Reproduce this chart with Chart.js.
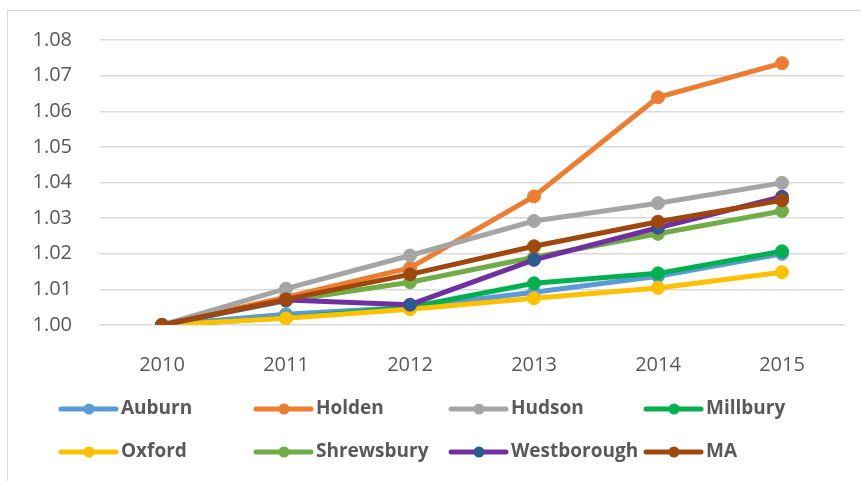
<!DOCTYPE html>
<html>
<head>
  <title>Index by town</title>
  <script src="https://cdn.jsdelivr.net/npm/chart.js"></script>
  <style>
    html, body { margin: 0; padding: 0; background: #fff; overflow: hidden; }
    #frame { position: absolute; left: 7px; top: 10px; width: 900px; height: 520px; border: 1px solid #d9d9d9; }
    #indexChart { position: absolute; left: 0; top: 0; }
  </style>
</head>
<body>
  <div id="frame"></div>
  <canvas id="indexChart" width="861" height="481"></canvas>

  <script>
    // values
    const years = ['2010', '2011', '2012', '2013', '2014', '2015'];
    const auburn      = [1.000, 1.0030, 1.0050, 1.0092, 1.0137, 1.0200];
    const holden      = [1.000, 1.0078, 1.0160, 1.0361, 1.0639, 1.0735];
    const hudson      = [1.000, 1.0102, 1.0195, 1.0292, 1.0342, 1.0399];
    const millbury    = [1.000, 1.0020, 1.0050, 1.0117, 1.0145, 1.0207];
    const oxford      = [1.000, 1.0019, 1.0044, 1.0075, 1.0104, 1.0148];
    const shrewsbury  = [1.000, 1.0068, 1.0120, 1.0190, 1.0256, 1.0320];
    const westborough = [1.000, 1.0070, 1.0057, 1.0183, 1.0273, 1.0360];
    const ma          = [1.000, 1.0072, 1.0142, 1.0221, 1.0290, 1.0350];
    const yTicks = [1.00, 1.01, 1.02, 1.03, 1.04, 1.05, 1.06, 1.07, 1.08];

    const series = [
      ['Auburn', auburn, '#5B9BD5', '#5B9BD5'],
      ['Holden', holden, '#ED7D31', '#ED7D31'],
      ['Hudson', hudson, '#A5A5A5', '#A5A5A5'],
      ['Millbury', millbury, '#00B050', '#00B050'],
      ['Oxford', oxford, '#FFC000', '#FFC000'],
      ['Shrewsbury', shrewsbury, '#70AD47', '#70AD47'],
      ['Westborough', westborough, '#7030A0', '#255E91'],
      ['MA', ma, '#9E480E', '#9E480E']
    ];

    const textColor = '#595959';

    // legend in a 4 x 2 grid, like the original
    const gridLegend = {
      id: 'gridLegend',
      afterDraw(chart) {
        const ctx = chart.ctx;
        ctx.save();
        chart.data.datasets.forEach((ds, i) => {
          const x = 61 + (i % 4) * 195;
          const y = 409 + Math.floor(i / 4) * 43;
          ctx.strokeStyle = ds.borderColor;
          ctx.lineWidth = 5;
          ctx.lineCap = 'round';
          ctx.beginPath();
          ctx.moveTo(x, y);
          ctx.lineTo(x + 55, y);
          ctx.stroke();
          ctx.fillStyle = ds.pointBackgroundColor;
          ctx.beginPath();
          ctx.arc(x + 28, y, 5.5, 0, Math.PI * 2);
          ctx.fill();
          ctx.fillStyle = textColor;
          ctx.font = 'bold 19px "Open Sans"';
          ctx.textBaseline = 'middle';
          ctx.fillText(ds.label, x + 60, y);
        });
        ctx.restore();
      }
    };

    const ctx = document.getElementById('indexChart').getContext('2d');
    new Chart(ctx, {
      type: 'line',
      data: {
        labels: years,
        datasets: series.map((s, i) => ({
          label: s[0],
          data: s[1],
          borderColor: s[2],
          backgroundColor: s[2],
          pointBackgroundColor: s[3],
          pointBorderColor: s[2],
          pointBorderWidth: 1,
          pointRadius: 6.5,
          borderWidth: 5,
          tension: 0,
          order: series.length - 1 - i
        }))
      },
      options: {
        responsive: false,
        devicePixelRatio: 1,
        animation: false,
        layout: { padding: { left: 0, right: 17, top: 39, bottom: 0 } },
        plugins: {
          legend: { display: false },
          tooltip: { enabled: false }
        },
        scales: {
          x: {
            offset: true,
            grid: { display: false },
            border: { display: false },
            ticks: { color: textColor, font: { family: 'Open Sans', size: 20 }, padding: 20 },
            afterFit: (scale) => { scale.height = 156; }
          },
          y: {
            min: 1.00,
            max: 1.08,
            afterBuildTicks: (scale) => { scale.ticks = yTicks.map(v => ({ value: v })); },
            grid: { color: '#d9d9d9', lineWidth: 1.5, drawTicks: false },
            border: { display: false },
            ticks: {
              color: textColor,
              font: { family: 'Open Sans', size: 20 },
              padding: 28,
              callback: (v) => Number(v).toFixed(2)
            },
            afterFit: (scale) => { scale.width = 100; }
          }
        }
      },
      plugins: [gridLegend]
    });
  </script>
</body>
</html>
